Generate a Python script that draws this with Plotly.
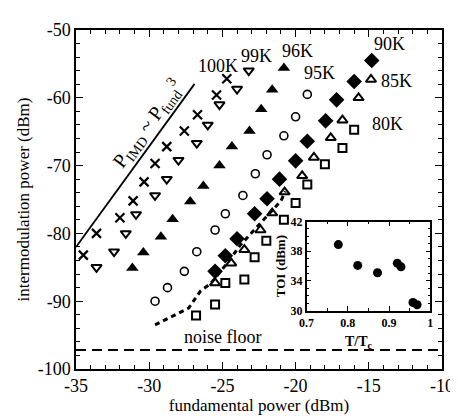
import plotly.graph_objects as go

# ---- data ----
x100 = [-34.5, -33.6, -32.0, -31.1, -30.35, -29.6, -28.8, -27.6, -26.7, -25.4, -24.7]
y100 = [-83.2, -80.0, -77.7, -75.2, -72.4, -69.7, -67.2, -64.9, -62.5, -59.6, -57.2]
x99 = [-33.6, -32.4, -31.6, -30.9, -29.6, -28.8, -28.0, -26.75, -26.0, -25.2, -24.0, -23.2]
y99 = [-85.0, -82.7, -80.0, -77.2, -74.4, -72.0, -69.2, -66.7, -64.0, -61.0, -58.7, -56.0]
x96 = [-31.15, -30.4, -29.2, -28.4, -27.2, -26.3, -25.2, -24.35, -23.15, -22.35, -21.6, -20.8]
y96 = [-85.1, -82.8, -80.5, -77.9, -75.3, -73.0, -70.0, -67.2, -64.9, -61.7, -58.8, -55.6]
x95 = [-29.6, -28.75, -27.6, -26.75, -25.5, -24.8, -23.6, -22.75, -21.95, -20.8, -20.0, -19.2]
y95 = [-90.0, -88.0, -85.6, -82.7, -79.5, -77.1, -74.4, -71.2, -68.4, -65.6, -62.8, -59.5]
x90 = [-25.5, -24.8, -24.0, -22.8, -21.95, -21.1, -20.0, -19.2, -17.95, -17.2, -16.0, -14.8]
y90 = [-85.6, -83.3, -80.8, -77.1, -74.9, -72.0, -69.3, -66.4, -63.4, -60.3, -57.6, -54.5]
x85 = [-25.5, -24.4, -23.5, -22.4, -21.6, -20.75, -19.55, -18.75, -17.6, -16.8, -15.7, -14.85]
y85 = [-87.3, -84.4, -82.4, -79.5, -77.0, -73.9, -71.5, -68.8, -65.9, -63.3, -60.0, -57.3]
x80 = [-26.8, -25.5, -24.8, -23.5, -22.8, -22.0, -20.8, -20.0, -19.2, -18.0, -16.8, -16.0]
y80 = [-92.1, -90.5, -87.3, -86.8, -83.5, -81.1, -78.0, -75.5, -72.8, -69.8, -67.4, -64.7]

# thick dashed guide curve
xcurve = [-29.6, -28.4, -27.3, -26.5, -25.8, -24.6, -23.8, -23.0, -22.0, -21.0, -20.7]
ycurve = [-93.5, -92.2, -91.0, -88.5, -87.4, -84.2, -81.8, -79.9, -77.6, -75.2, -73.8]

# slope-3 reference line
xslope = [-35.0, -26.9]
yslope = [-82.0, -57.95]

noise_floor = -97.2

# inset: TOI vs T/Tc
t_ratio = [0.777, 0.824, 0.872, 0.920, 0.929, 0.958, 0.968]
toi = [38.9, 36.1, 35.1, 36.4, 35.9, 31.1, 30.8]

labels = ["100K", "99K", "96K", "95K", "90K", "85K", "80K"]
label_x = [-25.3, -22.7, -19.9, -18.4, -13.6, -13.1, -13.75]
label_y = [-55.3, -53.8, -53.1, -56.3, -52.1, -57.5, -63.8]

x_ticks = [-35, -30, -25, -20, -15, -10]
y_ticks = [-100, -90, -80, -70, -60, -50]
inset_x_ticks = [0.7, 0.8, 0.9, 1]
inset_y_ticks = [30, 34, 38, 42]

FONT = "Liberation Serif"
K = "black"

fig = go.Figure()

def add(x, y, sym, size, lw=1.8):
    fig.add_trace(go.Scatter(x=x, y=y, mode="markers",
                             marker=dict(symbol=sym, size=size, color=K,
                                         line=dict(color=K, width=lw)),
                             showlegend=False))

add(x100, y100, "x-thin", 9, 2.2)
add(x99, y99, "triangle-down-open", 9, 2)
add(x96, y96, "triangle-up", 11, 0)
add(x95, y95, "circle-open", 8, 1.6)
add(x90, y90, "diamond", 12, 0)
add(x85, y85, "triangle-up-open", 9, 2)
add(x80, y80, "square-open", 8, 2)

fig.add_trace(go.Scatter(x=xcurve, y=ycurve, mode="lines",
                         line=dict(color=K, width=3, dash="5px,4px"),
                         showlegend=False))
fig.add_trace(go.Scatter(x=xslope, y=yslope, mode="lines",
                         line=dict(color=K, width=1.8), showlegend=False))
fig.add_trace(go.Scatter(x=[-35, -10], y=[noise_floor, noise_floor], mode="lines",
                         line=dict(color=K, width=1.8, dash="10px,6px"),
                         showlegend=False))

# inset
fig.add_trace(go.Scatter(x=t_ratio, y=toi, mode="markers", xaxis="x2", yaxis="y2",
                         marker=dict(symbol="circle", size=9, color=K),
                         showlegend=False))

for t, lx, ly in zip(labels, label_x, label_y):
    fig.add_annotation(x=lx, y=ly, text=t, showarrow=False,
                       font=dict(family=FONT, size=18, color=K))

fig.add_annotation(x=-30.1, y=-63.8, text="P<sub>IMD</sub> ~ P<sub>fund</sub><sup>3</sup>",
                   showarrow=False, textangle=-53.5,
                   font=dict(family=FONT, size=20, color=K))
fig.add_annotation(x=-25.0, y=-95.3, text="noise floor", showarrow=False,
                   font=dict(family=FONT, size=18, color=K))
# inset x-axis title placed just above the noise-floor line
fig.add_annotation(xref="paper", yref="paper", x=0.815, y=0.05, yanchor="bottom",
                   text="<b>T/T<sub>c</sub></b>", showarrow=False, borderpad=0,
                   font=dict(family=FONT, size=14, color=K))

axis_common = dict(showgrid=False, zeroline=False, showline=True, linecolor=K,
                   linewidth=1.5, mirror="allticks", ticks="inside", tickcolor=K,
                   tickwidth=1.2)

fig.update_layout(
    width=458, height=420,
    margin=dict(l=68, r=15, t=18, b=59),
    paper_bgcolor="white", plot_bgcolor="white",
    font=dict(family=FONT, size=16, color=K),
    xaxis=dict(range=[-35, -10], tickvals=x_ticks, ticktext=[str(v) for v in x_ticks],
               ticklen=7,
               minor=dict(ticks="inside", dtick=1, ticklen=4, tickcolor=K),
               title=dict(text="fundamental power (dBm)", font=dict(size=17), standoff=4),
               tickfont=dict(size=18), **axis_common),
    yaxis=dict(range=[-100, -50], tickvals=y_ticks, ticktext=[str(v) for v in y_ticks],
               ticklen=7,
               minor=dict(ticks="inside", dtick=2, ticklen=4, tickcolor=K),
               title=dict(text="intermodulation power (dBm)", font=dict(size=17), standoff=4),
               tickfont=dict(size=18), **axis_common),
    xaxis2=dict(domain=[0.630, 0.968], anchor="y2", range=[0.7, 1],
                tickvals=inset_x_ticks, ticktext=["<b>%g</b>" % v for v in inset_x_ticks],
                ticklen=5, minor=dict(ticks="inside", dtick=0.05, ticklen=3, tickcolor=K),
                tickfont=dict(size=12), **axis_common),
    yaxis2=dict(domain=[0.172, 0.435], anchor="x2", range=[30, 42],
                tickvals=inset_y_ticks, ticktext=["<b>%g</b>" % v for v in inset_y_ticks],
                ticklen=5, minor=dict(ticks="inside", dtick=1, ticklen=3, tickcolor=K),
                tickfont=dict(size=12),
                title=dict(text="<b>TOI (dBm)</b>", font=dict(size=13), standoff=2),
                **axis_common),
)

fig.write_html("out.html")
